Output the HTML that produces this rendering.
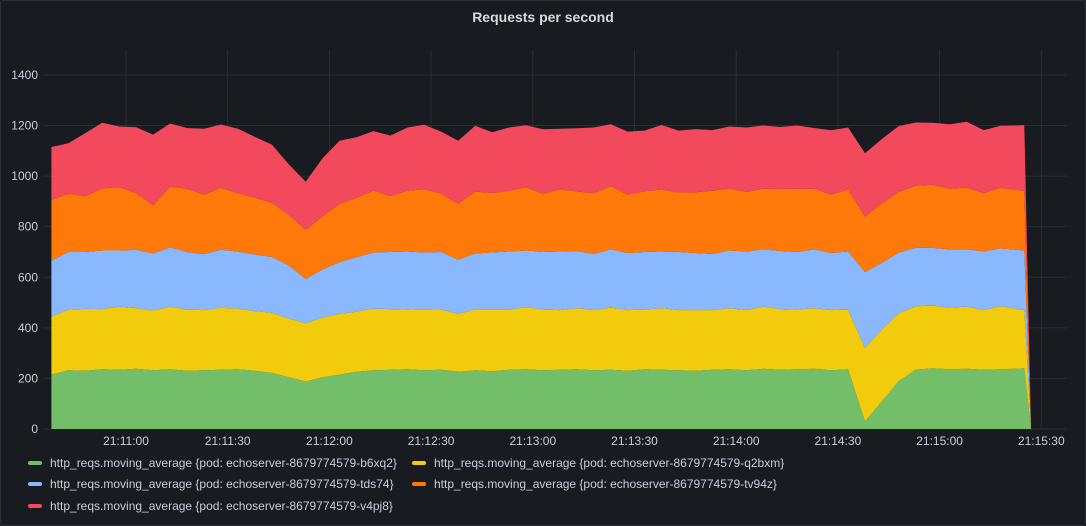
<!DOCTYPE html>
<html><head><meta charset="utf-8"><style>
body{margin:0;background:#111217;font-family:"Liberation Sans",sans-serif;}
#panel{position:absolute;left:0;top:0;width:1084px;height:524px;background:#181b1f;border:1px solid #2c2f36;border-radius:3px;}
#title{position:absolute;left:0;width:1086px;top:9px;text-align:center;color:#d8d9da;font-size:14px;font-weight:bold;}
.leg{position:absolute;font-size:12px;color:#ccccdc;display:flex;align-items:center;white-space:nowrap;}
.sw{width:14px;height:4px;border-radius:2px;margin-right:8px;}
</style></head><body>
<div id="panel"></div>
<div id="title">Requests per second</div>
<svg id="chart" width="1086" height="526" style="position:absolute;left:0;top:0"></svg>
<div class="leg" style="left:28px;top:456px"><div class="sw" style="background:#73bf69"></div>http_reqs.moving_average {pod: echoserver-8679774579-b6xq2}</div>
<div class="leg" style="left:412px;top:456px"><div class="sw" style="background:#f2cc0c"></div>http_reqs.moving_average {pod: echoserver-8679774579-q2bxm}</div>
<div class="leg" style="left:28px;top:477px"><div class="sw" style="background:#8ab8ff"></div>http_reqs.moving_average {pod: echoserver-8679774579-tds74}</div>
<div class="leg" style="left:412px;top:477px"><div class="sw" style="background:#ff780a"></div>http_reqs.moving_average {pod: echoserver-8679774579-tv94z}</div>
<div class="leg" style="left:28px;top:499px"><div class="sw" style="background:#f2495c"></div>http_reqs.moving_average {pod: echoserver-8679774579-v4pj8}</div>
<script>
// seconds after 21:10:00
const times = [38,43,48,53,58,63,68,73,78,83,88,93,98,103,108,113,118,123,128,133,138,143,148,153,158,163,168,173,178,183,188,193,198,203,208,213,218,223,228,233,238,243,248,253,258,263,268,273,278,283,288,293,298,303,308,313,318,325,327];
const green = [215,232,230,236,234,238,232,236,230,232,234,236,230,222,205,188,205,215,226,232,234,236,232,234,226,232,228,234,236,232,234,236,232,234,230,236,234,232,230,234,236,232,238,234,236,238,232,236,30,110,190,235,240,236,238,234,236,240,0];
const yellow = [230,240,245,238,250,240,236,248,242,238,245,240,236,238,232,230,236,240,238,244,240,236,242,238,230,240,244,238,246,240,236,242,238,246,240,236,244,238,240,236,242,238,246,240,236,240,238,236,290,285,268,250,248,244,246,236,250,230,0];
const blue = [220,228,225,232,222,230,226,234,228,222,230,226,224,220,210,175,190,205,215,222,226,230,224,228,214,222,226,230,224,228,232,226,222,230,226,228,224,230,226,222,228,232,226,230,228,232,226,230,300,262,240,232,228,230,226,232,228,236,0];
const orange = [240,230,220,245,250,225,190,240,250,235,245,230,225,215,200,195,210,230,235,245,220,240,250,230,220,245,235,240,250,230,245,235,240,250,230,240,245,235,240,250,245,235,240,245,250,240,230,245,220,235,240,245,250,240,245,230,240,235,0];
const red = [210,200,250,260,240,260,280,250,240,260,250,255,240,230,200,190,230,250,240,235,240,250,255,245,250,260,240,250,245,255,240,250,260,245,250,240,255,245,250,240,245,255,250,245,250,240,255,245,250,255,260,250,245,255,260,250,245,260,0];
const yTicks = [0,200,400,600,800,1000,1200,1400];
const xTickSec = [60,90,120,150,180,210,240,270,300,330];
const xTickLabels = ["21:11:00","21:11:30","21:12:00","21:12:30","21:13:00","21:13:30","21:14:00","21:14:30","21:15:00","21:15:30"];

const svg = document.getElementById('chart');
const NS = 'http://www.w3.org/2000/svg';
const xS = s => 126 + (s - 60) * 3.39;
const yS = v => 429 - v * 0.2529;
function mk(tag, attrs){const e=document.createElementNS(NS,tag);for(const k in attrs)e.setAttribute(k,attrs[k]);svg.appendChild(e);return e;}
yTicks.forEach(v=>{
  const l=mk('line',{x1:44,x2:1067,y1:yS(v),y2:yS(v),stroke:'#2a2d33','stroke-width':1});
  
  
  const t=mk('text',{x:38,y:yS(v)+4,'text-anchor':'end',fill:'#ccccdc','font-size':12,'font-family':'Liberation Sans, sans-serif'});
  t.textContent=v;
  
  
});
xTickSec.forEach((s,i)=>{
  const l=mk('line',{x1:xS(s),x2:xS(s),y1:50,y2:429,stroke:'#2a2d33','stroke-width':1});
  
  
  const t=mk('text',{x:xS(s),y:445,'text-anchor':'middle',fill:'#ccccdc','font-size':12,'font-family':'Liberation Sans, sans-serif'});
  t.textContent=xTickLabels[i];
  
  
});
const series=[[green,'#73bf69','area-b6xq2'],[yellow,'#f2cc0c','area-q2bxm'],[blue,'#8ab8ff','area-tds74'],[orange,'#ff780a','area-tv94z'],[red,'#f2495c','area-v4pj8']];
const base=green.map(()=>0);
series.forEach(([vals,col,name])=>{
  const top=vals.map((v,i)=>base[i]+v);
  let d='';
  top.forEach((v,i)=>{d+=(i?'L':'M')+xS(times[i]).toFixed(1)+','+yS(v).toFixed(1);});
  for(let i=base.length-1;i>=0;i--)d+='L'+xS(times[i]).toFixed(1)+','+yS(base[i]).toFixed(1);
  const p=mk('path',{d:d+'Z',fill:col,stroke:'none'});
  
  
  top.forEach((v,i)=>base[i]=v);
});
</script>
</body></html>
